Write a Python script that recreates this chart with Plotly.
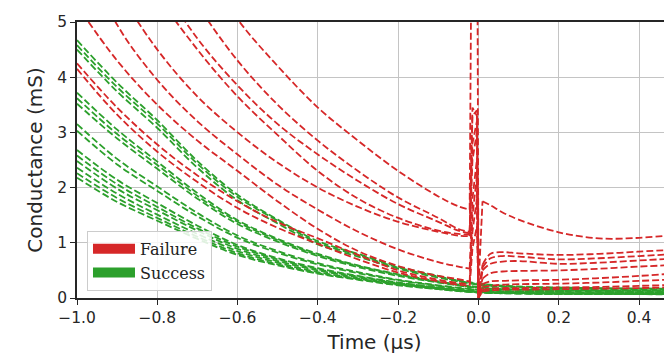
import plotly.graph_objects as go

# ---------------- data ----------------
# time grid for failure (red) curves, in microseconds
T_RED = [-1.0, -0.9, -0.8, -0.7, -0.6, -0.5, -0.4, -0.3, -0.2, -0.1, -0.05, -0.022,
         -0.015, -0.004, 0.0, 0.01, 0.03, 0.06, 0.1, 0.2, 0.3, 0.4, 0.5]

fail_a = [11.0, 9.2, 7.6, 6.2, 5.05, 4.2, 3.45, 2.85, 2.3, 1.84, 1.66, 1.6,
          9.0, 9.0, 0.2, 1.75, 1.68, 1.55, 1.42, 1.19, 1.08, 1.09, 1.15]
fail_b = [9.5, 7.8, 6.4, 5.3, 4.3, 3.5, 2.85, 2.3, 1.82, 1.45, 1.25, 1.2,
          3.45, 3.3, 0.05, 0.6, 0.8, 0.83, 0.81, 0.78, 0.8, 0.84, 0.88]
fail_c = [8.6, 7.1, 5.8, 4.7, 3.85, 3.15, 2.6, 2.12, 1.7, 1.38, 1.22, 1.17,
          3.3, 3.4, 0.1, 0.55, 0.72, 0.76, 0.75, 0.7, 0.72, 0.76, 0.8]
fail_d = [8.2, 6.8, 5.5, 4.5, 3.65, 2.95, 2.3, 1.8, 1.45, 1.22, 1.16, 1.15,
          2.8, 3.2, 0.0, 0.5, 0.62, 0.66, 0.67, 0.62, 0.64, 0.68, 0.72]
fail_e = [6.9, 5.6, 4.5, 3.65, 3.0, 2.45, 2.0, 1.65, 1.38, 1.2, 1.13, 1.12,
          2.5, 3.0, 0.05, 0.35, 0.45, 0.48, 0.49, 0.5, 0.53, 0.57, 0.6]
fail_f = [6.5, 4.95, 3.95, 3.2, 2.6, 2.05, 1.6, 1.2, 0.88, 0.65, 0.57, 0.53,
          1.8, 2.5, 0.0, 0.25, 0.3, 0.31, 0.32, 0.33, 0.36, 0.4, 0.45]
fail_g = [5.3, 4.3, 3.5, 2.85, 2.3, 1.75, 1.25, 0.85, 0.58, 0.4, 0.34, 0.3,
          1.5, 2.2, 0.0, 0.2, 0.22, 0.24, 0.25, 0.26, 0.28, 0.31, 0.34]
fail_h = [4.25, 3.45, 2.78, 2.22, 1.75, 1.37, 1.08, 0.78, 0.5, 0.33, 0.27, 0.25,
          1.2, 1.8, 0.0, 0.15, 0.17, 0.18, 0.18, 0.19, 0.2, 0.22, 0.24]
fail_i = [4.15, 3.32, 2.65, 2.1, 1.63, 1.27, 0.98, 0.7, 0.46, 0.3, 0.24, 0.22,
          0.9, 1.3, 0.0, 0.12, 0.14, 0.15, 0.15, 0.16, 0.17, 0.18, 0.2]

# time grid for success (green) curves
T_GREEN = [-1.0, -0.9, -0.8, -0.7, -0.6, -0.5, -0.4, -0.3, -0.2, -0.1, 0.0, 0.1, 0.2, 0.3, 0.4, 0.5]

succ_01 = [4.67, 3.90, 3.22, 2.48, 1.87, 1.42, 1.03, 0.80, 0.57, 0.40, 0.26, 0.21, 0.19, 0.18, 0.17, 0.17]
succ_02 = [4.58, 3.82, 3.16, 2.43, 1.83, 1.40, 1.00, 0.78, 0.55, 0.39, 0.25, 0.20, 0.18, 0.17, 0.17, 0.16]
succ_03 = [4.50, 3.74, 3.08, 2.36, 1.77, 1.35, 0.97, 0.75, 0.53, 0.37, 0.24, 0.19, 0.17, 0.16, 0.16, 0.15]
succ_04 = [3.72, 3.05, 2.47, 1.90, 1.41, 1.07, 0.80, 0.59, 0.43, 0.30, 0.20, 0.16, 0.15, 0.14, 0.14, 0.13]
succ_05 = [3.62, 2.97, 2.41, 1.85, 1.38, 1.05, 0.78, 0.58, 0.42, 0.29, 0.19, 0.15, 0.14, 0.13, 0.13, 0.13]
succ_06 = [3.52, 2.89, 2.34, 1.80, 1.34, 1.02, 0.76, 0.56, 0.40, 0.28, 0.18, 0.15, 0.14, 0.13, 0.12, 0.12]
succ_07 = [3.15, 2.52, 2.02, 1.54, 1.13, 0.85, 0.63, 0.47, 0.33, 0.23, 0.15, 0.12, 0.11, 0.11, 0.10, 0.10]
succ_08 = [3.03, 2.42, 1.94, 1.48, 1.09, 0.82, 0.61, 0.45, 0.32, 0.22, 0.14, 0.12, 0.11, 0.10, 0.10, 0.10]
succ_09 = [2.68, 2.14, 1.72, 1.31, 0.96, 0.72, 0.54, 0.40, 0.28, 0.19, 0.12, 0.10, 0.09, 0.09, 0.09, 0.08]
succ_10 = [2.58, 2.06, 1.65, 1.26, 0.93, 0.70, 0.52, 0.39, 0.27, 0.19, 0.12, 0.10, 0.09, 0.09, 0.08, 0.08]
succ_11 = [2.48, 1.98, 1.59, 1.22, 0.89, 0.67, 0.50, 0.37, 0.26, 0.18, 0.11, 0.09, 0.08, 0.08, 0.08, 0.08]
succ_12 = [2.36, 1.89, 1.51, 1.16, 0.85, 0.64, 0.47, 0.35, 0.25, 0.17, 0.11, 0.09, 0.08, 0.08, 0.07, 0.07]
succ_13 = [2.26, 1.81, 1.45, 1.11, 0.81, 0.61, 0.45, 0.34, 0.24, 0.16, 0.10, 0.08, 0.07, 0.07, 0.07, 0.07]
succ_14 = [2.18, 1.74, 1.40, 1.07, 0.78, 0.59, 0.44, 0.33, 0.23, 0.16, 0.10, 0.08, 0.07, 0.07, 0.07, 0.06]

FAILURE = [fail_a, fail_b, fail_c, fail_d, fail_e, fail_f, fail_g, fail_h, fail_i]
SUCCESS = [succ_01, succ_02, succ_03, succ_04, succ_05, succ_06, succ_07,
           succ_08, succ_09, succ_10, succ_11, succ_12, succ_13, succ_14]

X_TICKS = [-1.0, -0.8, -0.6, -0.4, -0.2, 0.0, 0.2, 0.4]
Y_TICKS = [0, 1, 2, 3, 4, 5]
LEGEND_LABELS = ["Failure", "Success"]

# ---------------- styling ----------------
RED = "#d62728"
GREEN = "#2ca02c"
DASH = "7px,3px"
LW = 1.8
AX_COL = "#262626"

fig = go.Figure()


def add_line(xs, ys, color, shape):
    fig.add_trace(go.Scatter(
        x=xs, y=ys, mode="lines",
        line=dict(color=color, width=LW, dash=DASH, shape=shape, smoothing=1.0),
        showlegend=False, hoverinfo="skip"))


for ys in SUCCESS:
    add_line(T_GREEN, ys, GREEN, "spline")

# failure curves: smooth decay, sharp spike near t=0, smooth plateau
for ys in FAILURE:
    add_line(T_RED[:12], ys[:12], RED, "spline")
    add_line(T_RED[11:16], ys[11:16], RED, "linear")
    add_line(T_RED[15:], ys[15:], RED, "spline")

# legend entries
for name, color in zip(LEGEND_LABELS, [RED, GREEN]):
    fig.add_trace(go.Scatter(x=[None], y=[None], mode="lines", name=name,
                             line=dict(color=color, width=14)))

tick_font = dict(family="DejaVu Sans", size=15.5, color=AX_COL)
title_font = dict(family="DejaVu Sans", size=20, color=AX_COL)

# the page body adds an 8px offset; margins compensate so the plot area
# lands where the reference has it
fig.update_layout(
    width=672, height=357,
    margin=dict(l=69, r=8, t=5, b=67),
    paper_bgcolor="white", plot_bgcolor="white",
    showlegend=True,
    legend=dict(x=0.0168, y=0.026, xanchor="left", yanchor="bottom",
                bgcolor="rgba(255,255,255,0.85)", bordercolor="#cccccc", borderwidth=1,
                font=dict(family="DejaVu Serif", size=16, color="#222222"),
                itemwidth=42, tracegroupgap=0),
    xaxis=dict(range=[-1.0, 0.482], tickvals=X_TICKS, tickformat=".1f",
               showgrid=True, gridcolor="#c4c4c4", gridwidth=1,
               showline=True, linecolor=AX_COL, linewidth=1.5, mirror=True,
               ticks="outside", ticklen=5, tickwidth=1.2, tickcolor=AX_COL,
               tickfont=tick_font, zeroline=False, ticklabeloverflow="allow",
               title=dict(text="Time (µs)", font=title_font, standoff=9)),
    yaxis=dict(range=[0, 5], tickvals=Y_TICKS,
               showgrid=True, gridcolor="#c4c4c4", gridwidth=1,
               showline=True, linecolor=AX_COL, linewidth=1.5,
               ticks="outside", ticklen=5, tickwidth=1.2, tickcolor=AX_COL,
               tickfont=tick_font, zeroline=False, ticklabeloverflow="allow",
               title=dict(text="Conductance (mS)", font=title_font, standoff=9)),
)

fig.write_html("out.html")
